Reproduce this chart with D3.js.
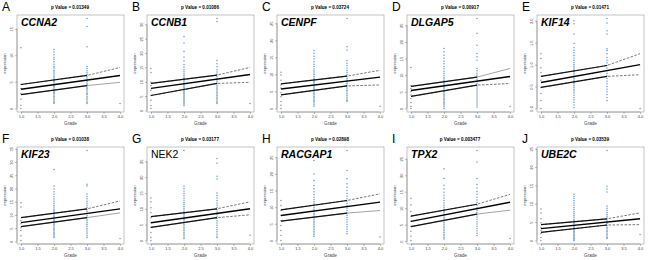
<!DOCTYPE html>
<html><head><meta charset="utf-8">
<script src="https://cdn.jsdelivr.net/npm/d3@7"></script>
<style>body{margin:0;background:#fff} svg{display:block;font-family:"Liberation Sans",Arial,sans-serif}</style>
</head><body><svg id="chart" width="648" height="260"></svg>
<script>
// panel letters, gene names and p values
const letters = ["A","B","C","D","E","F","G","H","I","J"];
const genes = ["CCNA2","CCNB1","CENPF","DLGAP5","KIF14","KIF23","NEK2","RACGAP1","TPX2","UBE2C"];
const pValues = ["0.01349","0.01086","0.03724","0.00917","0.01471","0.01038","0.03177","0.02898","0.003477","0.03539"];

const xTicks = [1.0, 1.5, 2.0, 2.5, 3.0, 3.5, 4.0];
const yTicks = [
  [0, 5, 10, 15],
  [0, 5, 10, 15, 20, 25, 30],
  [0, 5, 10, 15, 20, 25],
  [0, 5, 10, 15, 20, 25],
  [0.0, 0.5, 1.0, 1.5, 2.0],
  [0, 5, 10, 15, 20, 25, 30, 35],
  [0, 5, 10, 15, 20, 25],
  [0, 5, 10, 15, 20, 25],
  [0, 5, 10, 15, 20, 25],
  [0, 5, 10, 15, 20, 25]
];

// expression values by tumour grade
const grade1 = [
  [11.4, 4.5, 3.75, 2.8, 1.7, 0.6, 0.0],
  [14.6, 13.2, 9.8, 8.7, 7.0, 5.2, 3.5, 1.7, 0.7],
  [10.6, 9.8, 8.3, 6.9, 6.0, 4.6, 3.4, 2.0, 0.9, 0.0],
  [12.3, 6.9, 6.0, 5.0, 4.0, 3.0, 1.8, 0.6, 0.0],
  [1.25, 1.14, 0.93, 0.82, 0.64, 0.48, 0.34, 0.18, 0.0],
  [14.6, 13.0, 7.8, 6.7, 5.2, 4.1, 2.2, 0.4],
  [13.4, 12.2, 10.3, 8.8, 7.2, 5.6, 4.1, 2.5, 0.9, 0.0],
  [12.0, 10.5, 9.0, 7.5, 6.0, 4.5, 3.0, 1.5, 0.0],
  [13.0, 11.0, 9.0, 7.5, 6.0, 4.5, 3.0, 1.5, 0.2],
  [8.6, 7.5, 5.9, 4.8, 3.5, 2.7, 1.9, 0.8, 0.0]
];
const grade2 = [
  [11.1, 10.6, 10.1, 9.6, 9.2, 8.8, 8.3, 7.9, 7.6, 7.2, 6.9, 6.6, 6.3, 6.0, 5.7, 5.5, 5.2, 5.0, 4.8, 4.5, 4.3, 4.1, 3.9, 3.6, 3.4, 3.2, 3.0, 2.8, 2.5, 2.3, 2.1, 1.8, 1.6, 1.3, 1.1, 0.9],
  [25.8, 23.5, 20.5, 18.6, 17.2, 16.0, 15.0, 14.2, 13.5, 12.8, 12.2, 11.6, 11.0, 10.5, 10.0, 9.5, 9.0, 8.6, 8.2, 7.8, 7.4, 7.0, 6.6, 6.2, 5.8, 5.4, 5.0, 4.6, 4.2, 3.8, 3.4, 3.0, 2.6, 2.2, 1.7],
  [17.0, 16.2, 15.3, 14.5, 13.7, 13.0, 12.3, 11.6, 11.0, 10.4, 9.9, 9.4, 8.9, 8.4, 8.0, 7.6, 7.2, 6.8, 6.4, 6.0, 5.6, 5.2, 4.8, 4.4, 4.0, 3.6, 3.2, 2.8, 2.4, 2.0, 1.6, 1.1, 0.6],
  [18.0, 17.0, 16.0, 15.1, 14.2, 13.4, 12.6, 11.9, 11.2, 10.6, 10.0, 9.4, 8.9, 8.4, 7.9, 7.4, 7.0, 6.6, 6.2, 5.8, 5.4, 5.0, 4.6, 4.2, 3.8, 3.4, 3.0, 2.6, 2.2, 1.8, 1.4, 1.0, 0.5, 0.0],
  [2.0, 1.93, 1.7, 1.48, 1.39, 1.33, 1.27, 1.21, 1.15, 1.10, 1.05, 1.0, 0.96, 0.92, 0.88, 0.84, 0.80, 0.76, 0.72, 0.68, 0.64, 0.60, 0.56, 0.52, 0.48, 0.44, 0.40, 0.35, 0.30, 0.25, 0.20, 0.14, 0.08, 0.02],
  [27.2, 20.9, 19.8, 18.8, 17.8, 16.9, 16.0, 15.2, 14.4, 13.7, 13.0, 12.3, 11.7, 11.1, 10.5, 10.0, 9.5, 9.0, 8.5, 8.0, 7.5, 7.0, 6.5, 6.0, 5.5, 5.0, 4.5, 4.0, 3.5, 3.0, 2.5, 2.0, 1.5],
  [28.4, 17.2, 16.4, 15.6, 14.8, 14.1, 13.4, 12.7, 12.0, 11.4, 10.8, 10.2, 9.6, 9.1, 8.6, 8.1, 7.6, 7.1, 6.6, 6.1, 5.6, 5.1, 4.6, 4.1, 3.6, 3.1, 2.6, 2.1, 1.6, 1.1, 0.6],
  [24.0, 20.0, 18.0, 16.5, 15.5, 14.6, 13.8, 13.0, 12.3, 11.6, 11.0, 10.4, 9.8, 9.2, 8.7, 8.2, 7.7, 7.2, 6.7, 6.2, 5.7, 5.2, 4.7, 4.2, 3.7, 3.2, 2.7, 2.2, 1.7, 1.2],
  [22.0, 19.0, 17.0, 15.8, 14.8, 13.9, 13.1, 12.3, 11.6, 10.9, 10.3, 9.7, 9.1, 8.6, 8.1, 7.6, 7.1, 6.6, 6.1, 5.6, 5.1, 4.6, 4.1, 3.6, 3.1, 2.6, 2.1, 1.6, 1.1, 0.6],
  [12.6, 12.0, 11.4, 10.8, 10.2, 9.6, 9.0, 8.4, 7.8, 7.3, 6.8, 6.3, 5.8, 5.4, 5.0, 4.6, 4.2, 3.8, 3.5, 3.2, 2.9, 2.6, 2.3, 2.0, 1.7, 1.4, 1.1, 0.8, 0.5, 0.2, 0.0]
];
const grade3 = [
  [16.9, 15.4, 11.6, 7.9, 7.5, 7.1, 6.7, 6.4, 6.0, 5.7, 5.4, 5.1, 4.8, 4.5, 4.2, 3.9, 3.7, 3.4, 3.1, 2.8, 2.6, 2.3, 2.0, 1.7, 1.4, 1.1, 0.9],
  [32.0, 31.0, 17.4, 16.3, 15.2, 14.2, 13.4, 12.6, 11.9, 11.2, 10.6, 10.0, 9.4, 8.8, 8.2, 7.7, 7.2, 6.7, 6.2, 5.7, 5.2, 4.7, 4.2, 3.7, 3.2, 2.8, 2.4],
  [26.4, 18.1, 17.2, 14.1, 13.3, 12.6, 11.9, 11.2, 10.6, 10.0, 9.4, 8.8, 8.3, 7.8, 7.3, 6.8, 6.3, 5.8, 5.3, 4.8, 4.3, 3.8, 3.3, 2.8, 2.4, 2.0],
  [27.0, 22.6, 19.0, 16.5, 15.5, 14.5, 12.0, 11.3, 10.6, 10.0, 9.4, 8.8, 8.2, 7.6, 7.0, 6.4, 5.8, 5.2, 4.6, 4.0, 3.4, 2.8, 2.2, 1.6, 1.0, 0.4],
  [2.05, 1.95, 1.77, 1.70, 1.36, 1.32, 1.25, 1.16, 1.10, 1.04, 0.98, 0.92, 0.86, 0.80, 0.74, 0.68, 0.62, 0.56, 0.50, 0.44, 0.38, 0.32, 0.25, 0.18],
  [34.3, 21.6, 20.9, 17.9, 17.0, 16.1, 15.2, 14.4, 13.6, 12.8, 12.0, 11.3, 10.6, 9.9, 9.2, 8.5, 7.8, 7.1, 6.4, 5.7, 5.0, 4.3, 3.6, 2.9, 2.2, 1.5],
  [25.9, 24.4, 20.3, 19.4, 15.0, 14.2, 13.4, 12.6, 11.8, 11.1, 10.4, 9.7, 9.0, 8.3, 7.6, 6.9, 6.2, 5.5, 4.8, 4.1, 3.4, 2.7, 2.0, 1.4, 0.9],
  [27.0, 21.0, 18.5, 17.0, 16.0, 15.0, 14.1, 13.3, 12.5, 11.8, 11.1, 10.4, 9.7, 9.0, 8.3, 7.6, 6.9, 6.2, 5.5, 4.8, 4.1, 3.4, 2.7, 2.0],
  [27.5, 24.0, 19.0, 17.2, 16.1, 15.1, 14.2, 13.3, 12.5, 11.7, 10.9, 10.1, 9.4, 8.7, 8.0, 7.3, 6.6, 5.9, 5.2, 4.5, 3.8, 3.1, 2.4, 1.7],
  [24.5, 14.8, 14.0, 13.2, 9.4, 8.8, 8.2, 7.6, 7.1, 6.6, 6.1, 5.6, 5.1, 4.6, 4.1, 3.6, 3.2, 2.8, 2.4, 2.0, 1.6, 1.2, 0.8, 0.5]
];
const grade4 = [[0.9], [2.4], [0.6], [0.6], [0.0], [1.1], [1.6], [1.0], [0.8], [1.6]];

// fitted line at grade 1 and 4, band bounds at grade 1, 3 and 4
const fitLine = [[3.6, 6.2], [7.7, 12.5], [5.7, 9.2], [5.4, 9.6], [0.59, 1.0], [7.1, 12.3], [5.6, 10.0], [7.5, 11.5], [6.0, 11.8], [3.2, 5.9]];
const bandUpper = [[4.5, 6.2, 7.7], [9.4, 12.3, 15.0], [7.2, 9.5, 11.2], [6.6, 9.4, 12.0], [0.73, 0.98, 1.25], [9.0, 12.3, 15.3], [7.5, 10.0, 12.2], [9.2, 12.0, 14.0], [7.6, 11.2, 14.2], [4.3, 5.9, 7.5]];
const bandLower = [[2.6, 4.3, 4.9], [5.2, 9.4, 9.8], [4.0, 6.6, 6.9], [3.6, 7.0, 7.5], [0.48, 0.73, 0.77], [5.6, 9.0, 10.8], [4.1, 7.2, 8.1], [5.8, 8.2, 9.0], [4.4, 8.2, 9.4], [2.2, 4.2, 4.3]];
const upperEnd = ["dash","dash","dash","grey","dash","dash","dash","dash","dash","dash"];
const lowerEnd = ["grey","dash","dash","dash","dash","grey","dash","grey","grey","dash"];

const svg = d3.select("#chart");
const box = { left: 17, right: 124, top: 15, bottom: 112 };

letters.forEach((letter, i) => {
  const g = svg.append("g")
    .attr("transform", `translate(${(i % 5) * 130},${Math.floor(i / 5) * 132})`);

  const all = grade1[i].concat(grade2[i], grade3[i], grade4[i]);
  const ext = d3.extent(all);
  const pad = (ext[1] - ext[0]) * 0.04;
  const x = d3.scaleLinear().domain([0.88, 4.12]).range([box.left, box.right]);
  const y = d3.scaleLinear().domain([ext[0] - pad, ext[1] + pad]).range([box.bottom, box.top]);

  g.append("text").attr("x", 2).attr("y", 11)
    .style("font-size", "12px").text(letter);

  g.append("text").attr("x", 70).attr("y", 9)
    .attr("text-anchor", "middle")
    .style("font-size", "4.6px").style("font-weight", "bold")
    .text("p Value = " + pValues[i]);

  g.append("rect")
    .attr("x", box.left).attr("y", box.top)
    .attr("width", box.right - box.left).attr("height", box.bottom - box.top)
    .attr("fill", "none").attr("stroke", "#888").attr("stroke-width", 0.5);

  // axes
  const xa = g.append("g").attr("transform", `translate(0,${box.bottom})`)
    .call(d3.axisBottom(x).tickValues(xTicks).tickFormat(d3.format(".1f")).tickSize(2).tickPadding(1.5));
  xa.select(".domain").remove();
  xa.selectAll("line").attr("stroke", "#777").attr("stroke-width", 0.5);
  xa.selectAll("text").style("font-size", "4px").attr("fill", "#444");
  xa.append("line").attr("x1", x(1)).attr("x2", x(4))
    .attr("stroke", "#777").attr("stroke-width", 0.5);

  const ya = g.append("g").attr("transform", `translate(${box.left},0)`)
    .call(d3.axisLeft(y).tickValues(yTicks[i]).tickSize(2).tickPadding(1.5));
  ya.select(".domain").remove();
  ya.selectAll("line").attr("stroke", "#777").attr("stroke-width", 0.5);
  ya.selectAll("text").style("font-size", "4px").attr("fill", "#444")
    .attr("text-anchor", "middle").attr("x", 0).attr("dy", 0)
    .attr("transform", "translate(-4,0) rotate(-90)");
  const yt = yTicks[i];
  ya.append("line").attr("y1", y(yt[0])).attr("y2", y(yt[yt.length - 1]))
    .attr("stroke", "#777").attr("stroke-width", 0.5);

  g.append("text").attr("x", (box.left + box.right) / 2).attr("y", 125)
    .attr("text-anchor", "middle").style("font-size", "4.6px").attr("fill", "#444")
    .text("Grade");
  g.append("text").attr("transform", `translate(6,${(box.top + box.bottom) / 2}) rotate(-90)`)
    .attr("text-anchor", "middle").style("font-size", "4.2px").attr("fill", "#444")
    .text("expression");

  g.append("text").attr("x", 21).attr("y", 26)
    .style("font-size", "10.5px")
    .style("font-weight", genes[i] === "NEK2" ? "normal" : "bold")
    .style("font-style", genes[i] === "NEK2" ? "normal" : "italic")
    .text(genes[i]);

  // points
  const pts = [];
  [grade1, grade2, grade3, grade4].forEach((arr, k) => arr[i].forEach(v => pts.push({ grade: k + 1, v })));
  g.append("g").selectAll("circle").data(pts).join("circle")
    .attr("cx", d => x(d.grade)).attr("cy", d => y(d.v)).attr("r", 0.75)
    .attr("fill", d => (d.grade === 2 || d.grade === 3) ? "#4a88c2" : "#6d7c8c")
    .attr("fill-opacity", 0.85);

  // fit and bands
  const line = d3.line().x(d => x(d[0])).y(d => y(d[1]));
  const grades = [1, 3, 4];
  [[bandUpper[i], upperEnd[i]], [bandLower[i], lowerEnd[i]]].forEach(([b, style]) => {
    g.append("path").attr("d", line(grades.map((gr, k) => [gr, b[k]])))
      .attr("fill", "none")
      .attr("stroke", style === "grey" ? "#999" : "#555")
      .attr("stroke-width", style === "grey" ? 0.9 : 0.8)
      .attr("stroke-dasharray", style === "grey" ? null : "2.5,1.5");
    g.append("path").attr("d", line([[1, b[0]], [3, b[1]]]))
      .attr("fill", "none").attr("stroke", "#111").attr("stroke-width", 1.2);
  });
  g.append("path").attr("d", line([[1, fitLine[i][0]], [4, fitLine[i][1]]]))
    .attr("fill", "none").attr("stroke", "#000").attr("stroke-width", 1.4);
});
</script>
</body></html>
